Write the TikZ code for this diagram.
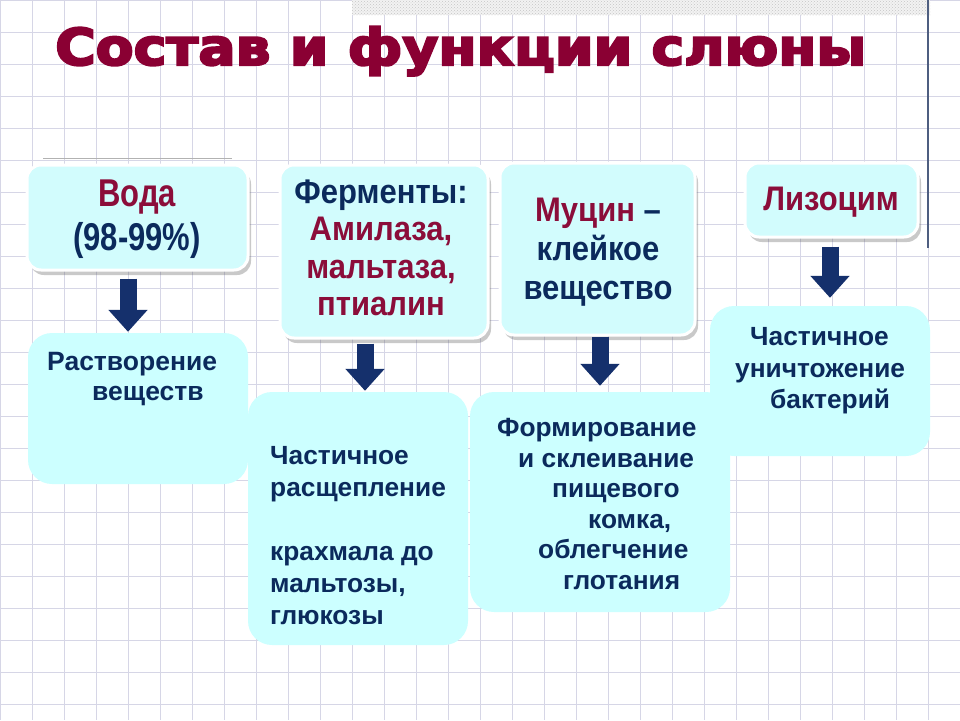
\documentclass[tikz,border=0pt]{standalone}
\usepackage{fontspec}
\usepackage{graphicx}
\setmainfont{Liberation Sans}
\newfontfamily\titlefont{DejaVu Sans}[BoldFeatures={FakeBold=4}]
\usetikzlibrary{shadows,patterns,arrows.meta,calc}
\definecolor{navy}{HTML}{0B2A5C}
\definecolor{maroon}{HTML}{8B0D3A}
\definecolor{tmaroon}{HTML}{8A0033}
\definecolor{cyanbox}{HTML}{CCFFFF}
\definecolor{topfill}{HTML}{D2FCFD}
\definecolor{gridc}{HTML}{D6D6E6}
\definecolor{arrowc}{HTML}{15306C}
\definecolor{vline}{HTML}{4E5E80}
\newcommand{\vst}[2]{\scalebox{1}[#1]{\begin{tabular}{@{}c@{}}#2\end{tabular}}}
\begin{document}
\begin{tikzpicture}[x=1pt,y=-1pt,
 gridline/.style={draw=gridc, line width=0.9},
 topbox/.style={draw=white, line width=3, fill=topfill, rounded corners=14, inner sep=0,
   drop shadow={shadow xshift=3pt, shadow yshift=-5pt, opacity=0.35, fill=black!60}},
 botbox/.style={fill=cyanbox, rounded corners=24, inner sep=0},
 toptext/.style={inner sep=0, text=navy, align=center},
 bottext/.style={inner sep=0, font=\bfseries\fontsize{26.3}{32}\selectfont, text=navy, align=left},
 conn/.style={draw=arrowc, line width=17, -{Triangle[width=38pt,length=22pt]}},
]
\useasboundingbox (0,0) rectangle (960,720);
\fill[white] (0,0) rectangle (960,720);
% grid
\foreach \i in {0,...,30} \draw[gridline] (32*\i,0) -- (32*\i,720);
\foreach \j in {0,...,22} \draw[gridline] (0,32*\j) -- (960,32*\j);
% top band and stray lines
\fill[gray!10] (352,0) rectangle (930,15);
\fill[pattern=crosshatch dots, pattern color=gray!45] (352,0) rectangle (930,15);
\draw[vline, line width=1.2] (928,0) -- (928,248);
\draw[gray!60, line width=1] (43,158) -- (232,158);
% title
\node[anchor=base west, inner sep=0, text=tmaroon] (title) at (55,65)
  {\resizebox{811pt}{38.5pt}{\titlefont\bfseries Состав и функции слюны}};
% bottom boxes
\node[botbox, minimum width=220, minimum height=151] (b1) at (138,408.5) {};
\node[botbox, minimum width=220, minimum height=150] (b4) at (820,381) {};
\node[botbox, minimum width=220, minimum height=253] (b2) at (358,518.5) {};
\node[botbox, minimum width=260, minimum height=220] (b3) at (600,502) {};
% top boxes
\node[topbox, minimum width=221, minimum height=105] (w) at (137.5,217.5) {};
\node[topbox, minimum width=208, minimum height=173] (f) at (384,251.5) {};
\node[topbox, minimum width=195, minimum height=172] (m) at (597.5,249) {};
\node[topbox, minimum width=173, minimum height=74] (l) at (831.5,200) {};
% top texts
\node[toptext, font=\bfseries\fontsize{31}{35}\selectfont] (wt) at (137,220)
  {\vst{1.25}{\color{maroon}Вода\\(98-99\%)}};
\node[toptext, font=\bfseries\fontsize{31}{34}\selectfont] (ft) at (381,252)
  {\vst{1.1}{Ферменты:\\\color{maroon}Амилаза,\\\color{maroon}мальтаза,\\\color{maroon}птиалин}};
\node[toptext, font=\bfseries\fontsize{31}{35.5}\selectfont] (mt) at (598,253)
  {\vst{1.1}{{\color{maroon}Муцин} –\\клейкое\\вещество}};
\node[toptext, font=\bfseries\fontsize{31}{35}\selectfont] (lt) at (831,203)
  {\vst{1.1}{\color{maroon}Лизоцим}};
% bottom texts
\node[bottext, anchor=west, font=\bfseries\fontsize{26.5}{30.5}\selectfont] (b1t) at (47,379)
  {Растворение\\\hspace*{45pt}веществ};
\node[bottext, anchor=west] (b2t) at (270,536)
  {Частичное\\расщепление\\[32pt]крахмала до\\мальтозы,\\глюкозы};
\node[bottext, anchor=west, font=\bfseries\fontsize{26.3}{30.5}\selectfont] (b3t) at (497,504)
  {Формирование\\\hspace*{21pt}и склеивание\\\hspace*{55pt}пищевого\\\hspace*{91pt}комка,\\\hspace*{41pt}облегчение\\\hspace*{66pt}глотания};
\node[bottext, anchor=west, font=\bfseries\fontsize{26.3}{31.5}\selectfont] (b4t) at (735,371)
  {\hspace*{15pt}Частичное\\уничтожение\\\hspace*{35pt}бактерий};
% arrows
\draw[conn] ([xshift=-9.5pt,yshift=-7pt]w.south) -- ([xshift=-10pt,yshift=1pt]b1.north);
\draw[conn] ([xshift=-19pt,yshift=-4pt]f.south) -- ([xshift=7pt,yshift=1pt]b2.north);
\draw[conn] ([xshift=2.5pt]m.south) -- ([yshift=6pt]b3.north);
\draw[conn] ([xshift=-1.5pt,yshift=-8pt]l.south) -- ([xshift=10pt,yshift=8pt]b4.north);
\end{tikzpicture}
\end{document}
